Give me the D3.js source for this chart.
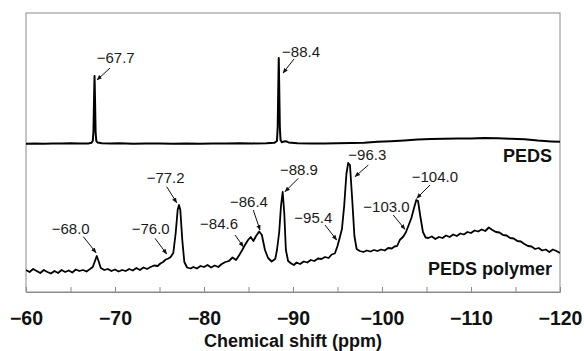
<!DOCTYPE html>
<html>
<head>
<meta charset="utf-8">
<script src="https://cdn.jsdelivr.net/npm/d3@7/dist/d3.min.js"></script>
<style>
	body { margin: 0; background: #fff; }
	svg { display: block; font-family: "Liberation Sans", Arial, sans-serif; }
	.peak-label { font-size: 15px; fill: #1a1a1a; }
	.series-label { font-size: 18px; font-weight: bold; fill: #111; }
	.x-axis text { font-size: 19.5px; font-weight: bold; fill: #111; font-family: "Liberation Sans", Arial, sans-serif; }
	.axis-title { font-size: 18px; font-weight: bold; fill: #111; }
</style>
</head>
<body>
<div id="chart"></div>
<script>
// PEDS (upper trace): chemical shift (ppm) and intensity (a.u., stacked offset)
const pedsPpm = [-60.0, -61.0, -62.0, -63.0, -64.0, -65.0, -66.0, -67.0, -67.35, -67.5, -67.58, -67.64, -67.7, -67.76,
	-67.82, -67.9, -68.05, -68.5, -69.5, -70.5, -72.0, -73.5, -75.0, -76.5, -78.0, -79.5, -81.0, -82.5, -84.0, -85.5,
	-87.0, -87.9, -88.2, -88.28, -88.34, -88.4, -88.46, -88.52, -88.6, -88.75, -88.95, -89.2, -89.5, -90.5, -92.0,
	-93.5, -95.0, -96.5, -98.0, -99.5, -101.0, -102.5, -104.0, -105.5, -107.0, -108.5, -110.0, -111.5, -113.0,
	-114.5, -116.0, -117.5, -119.0, -120.0];
const pedsInt = [148.3, 148.6, 148.2, 148.5, 148.4, 148.7, 148.4, 148.6, 149.2, 151, 160, 190, 216, 190,
	160, 151, 149.4, 148.7, 148.4, 148.7, 148.3, 148.6, 148.4, 148.2, 148.5, 148.3, 148.6, 148.4, 148.7, 148.6,
	148.8, 149.2, 151, 165, 200, 234, 200, 165, 152, 149.8, 150.4, 150.8, 149.6, 148.8, 148.6,
	148.5, 148.7, 149.0, 149.3, 150.2, 150.8, 151.6, 152.5, 152.9, 153.2, 153.6, 153.5, 153.9, 153.7,
	153.2, 152.8, 151.4, 150.6, 150.2];

// PEDS polymer (lower trace)
const polyPpm = [-60.0, -60.4, -60.8, -61.2, -61.6, -62.0, -62.4, -62.8, -63.2, -63.6, -64.0, -64.4, -64.8, -65.2,
	-65.6, -66.0, -66.4, -66.8, -67.2, -67.5, -67.75, -67.95, -68.15, -68.4, -68.8, -69.2, -69.6, -70.0, -70.4,
	-70.8, -71.2, -71.6, -72.0, -72.4, -72.8, -73.2, -73.6, -74.0, -74.4, -74.8, -75.1, -75.4, -75.7, -76.0,
	-76.25, -76.55, -76.82, -77.04, -77.19, -77.34, -77.56, -77.79, -78.1, -78.5, -78.8, -79.2, -79.6, -80.0,
	-80.4, -80.8, -81.2, -81.6, -82.0, -82.4, -82.8, -83.2, -83.6, -84.0, -84.3, -84.6, -84.95, -85.25, -85.55,
	-85.85, -86.2, -86.5, -86.85, -87.2, -87.6, -88.0, -88.2, -88.45, -88.65, -88.84, -89.02, -89.2, -89.45,
	-89.8, -90.1, -90.4, -90.8, -91.2, -91.6, -92.0, -92.4, -92.8, -93.2, -93.6, -94.0, -94.35, -94.7, -95.0,
	-95.3, -95.5, -95.75, -96.0, -96.2, -96.4, -96.65, -96.9, -97.15, -97.5, -97.9, -98.3, -98.7, -99.1, -99.5,
	-99.9, -100.3, -100.7, -101.1, -101.4, -101.7, -102.0, -102.4, -102.7, -103.0, -103.3, -103.6, -103.85,
	-104.05, -104.3, -104.6, -104.9, -105.2, -105.6, -106.0, -106.4, -106.8, -107.2, -107.6, -108.0, -108.4,
	-108.8, -109.2, -109.6, -110.0, -110.4, -110.8, -111.2, -111.6, -112.0, -112.4, -112.8, -113.2, -113.6,
	-114.0, -114.4, -114.8, -115.2, -115.6, -116.0, -116.4, -116.8, -117.2, -117.6, -118.0, -118.4, -118.8,
	-119.2, -119.6, -120.0];
const polyInt = [22, 20, 23, 21, 19, 22, 20, 18.5, 21, 19, 22, 20, 21.5, 19.5,
	22.5, 21, 22, 20.5, 23, 25, 31, 36, 31, 24, 22, 23, 21, 22.5, 20.5,
	22, 21, 23, 21.5, 24, 22, 24.5, 23, 25, 26.5, 26, 28.5, 30, 32.5, 33.5,
	35, 39, 59, 82, 87, 82, 52, 30, 24.5, 23.5, 25, 23.5, 26, 25,
	27, 24.5, 26.5, 25, 28, 30, 31, 34.5, 32, 37.5, 42, 47, 52, 55, 51,
	56, 60.5, 57, 42, 34, 30.5, 33, 42, 60, 86, 100, 79, 42, 31,
	28.5, 27, 29.5, 28, 30.5, 29.5, 32, 31, 33.5, 33, 35, 34, 37.5, 38.5, 46,
	56, 63, 86, 118, 129, 127, 93, 56, 43, 41, 40, 41.5, 40.5, 42, 41,
	42.5, 41.5, 44, 43.5, 45.5, 46, 52, 55.5, 60, 67, 74, 84, 92,
	91, 76, 60, 54.5, 54, 55.5, 53, 55, 54, 56.5, 55, 57.5, 56,
	58.5, 57.5, 60, 59, 61.5, 60.5, 62.5, 61, 64.5, 62, 60, 59.5, 57,
	56.5, 54, 53.5, 51, 50.5, 48, 46, 45.5, 43, 44, 41.5, 42.5, 40,
	42.5, 41, 39];

// Peak annotations: label, where the arrow points (ppm, intensity)
const peakLabels = ["\u221267.7", "\u221288.4", "\u221268.0", "\u221276.0", "\u221277.2", "\u221284.6",
	"\u221286.4", "\u221288.9", "\u221295.4", "\u221296.3", "\u2212103.0", "\u2212104.0"];
const peakTipPpm = [-67.98, -88.88, -67.87, -75.81, -76.93, -84.42, -86.29, -89.10, -94.91, -96.97, -102.58, -103.90];
const peakTipInt = [212, 219, 39.3, 38, 89.3, 45.3, 62, 100.3, 52, 115.3, 62.7, 93.7];

const seriesNames = ["PEDS", "PEDS polymer"];
const xTicks = [-60, -65, -70, -75, -80, -85, -90, -95, -100, -105, -110, -115, -120];

// layout: arrow tail and text start relative to the arrow tip, in px
const arrowTail = [[13, -12], [11, -14], [-12.7, -16], [-11.7, -15.7], [-10, -16], [-8.3, -11.7],
	[-6.7, -20], [13.3, -13.4], [-11.7, -15], [13.3, -11.7], [-11.7, -14.3], [13.3, -13.3]];
const textOffset = [[-0.3, -17.3], [-1, -16.3], [-44.3, -18.4], [-35, -19.7], [-30, -19.4], [-43.3, -17.7],
	[-30, -23.3], [-5, -16.7], [-42.4, -16.7], [-6.7, -16.7], [-41.7, -17.6], [-5, -16.6]];

const fullWidth = 584, fullHeight = 351;
const margin = { top: 13, right: 24, bottom: 59, left: 26 };
const width = fullWidth - margin.left - margin.right;
const height = fullHeight - margin.top - margin.bottom;

const svg = d3.select("#chart")
	.append("svg")
	.attr("width", fullWidth)
	.attr("height", fullHeight);

const g = svg.append("g")
	.attr("transform", "translate(" + margin.left + "," + margin.top + ")");

const x = d3.scaleLinear().domain([-60, -120]).range([0, width]);
const y = d3.scaleLinear().domain([0, 279]).range([height, 0]);

svg.append("defs").append("clipPath").attr("id", "plot-clip")
	.append("rect").attr("width", width).attr("height", height);

svg.select("defs").append("marker")
	.attr("id", "arrow")
	.attr("viewBox", "0 0 10 10")
	.attr("refX", 9).attr("refY", 5)
	.attr("markerWidth", 5.5).attr("markerHeight", 5.5)
	.attr("markerUnits", "userSpaceOnUse")
	.attr("orient", "auto")
	.append("path")
	.attr("d", "M0,1 L10,5 L0,9 z")
	.attr("fill", "#111");

// frame
g.append("rect")
	.attr("width", width)
	.attr("height", height)
	.attr("fill", "none")
	.attr("stroke", "#8a8a8a")
	.attr("stroke-width", 1);

// X axis (ticks inward, labels every 10)
const xAxis = d3.axisBottom(x)
	.tickValues(xTicks)
	.tickSizeInner(-5)
	.tickSizeOuter(0)
	.tickPadding(19)
	.tickFormat(d => d % 10 === 0 ? d3.format("d")(d) : "");
const axisG = g.append("g")
	.attr("transform", "translate(0," + height + ")")
	.classed("x-axis", true)
	.call(xAxis);
axisG.select(".domain").attr("stroke", "#8a8a8a");
axisG.selectAll(".tick line").attr("stroke", "#8a8a8a");

g.append("text")
	.classed("axis-title", true)
	.attr("x", width / 2)
	.attr("y", 346.7 - margin.top)
	.attr("text-anchor", "middle")
	.text("Chemical shift (ppm)");

// spectra
const line = d3.line()
	.x(d => x(d[0]))
	.y(d => y(d[1]));

const traces = [d3.zip(pedsPpm, pedsInt), d3.zip(polyPpm, polyInt)];
g.append("g").attr("clip-path", "url(#plot-clip)")
	.selectAll("path")
	.data(traces)
	.enter()
	.append("path")
	.attr("d", line)
	.attr("fill", "none")
	.attr("stroke", "#000")
	.attr("stroke-width", (d, i) => i === 0 ? 2 : 1.8)
	.attr("stroke-linejoin", "round");

// series names
const nameBaseline = [162, 275];
g.selectAll(".series-label")
	.data(seriesNames)
	.enter()
	.append("text")
	.classed("series-label", true)
	.attr("x", width - 8)
	.attr("y", (d, i) => nameBaseline[i] - margin.top)
	.attr("text-anchor", "end")
	.text(d => d);

// peak annotations
const ann = g.selectAll(".peak")
	.data(peakLabels)
	.enter()
	.append("g")
	.classed("peak", true)
	.attr("transform", (d, i) => "translate(" + x(peakTipPpm[i]) + "," + y(peakTipInt[i]) + ")");
ann.append("line")
	.attr("x1", (d, i) => arrowTail[i][0])
	.attr("y1", (d, i) => arrowTail[i][1])
	.attr("x2", 0)
	.attr("y2", 0)
	.attr("stroke", "#111")
	.attr("stroke-width", 1)
	.attr("marker-end", "url(#arrow)");
ann.append("text")
	.classed("peak-label", true)
	.attr("x", (d, i) => textOffset[i][0])
	.attr("y", (d, i) => textOffset[i][1])
	.text(d => d);
</script>
</body>
</html>
